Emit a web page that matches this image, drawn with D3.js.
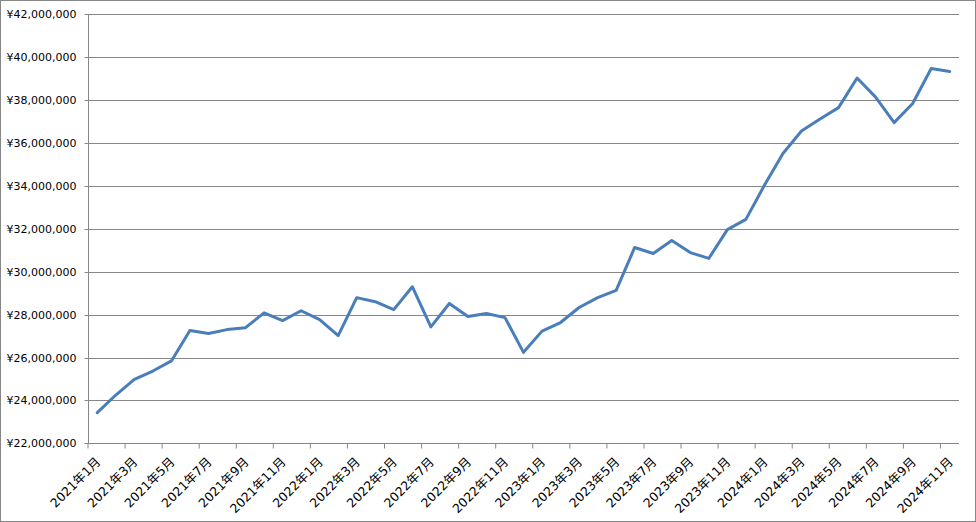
<!DOCTYPE html>
<html>
<head>
<meta charset="utf-8">
<script src="https://cdn.jsdelivr.net/npm/d3@7"></script>
<style>
  html, body { margin: 0; padding: 0; background: #fff; }
  svg { display: block; }
  text { font-family: "DejaVu Sans", "Noto Sans CJK JP", sans-serif; fill: #000; }
</style>
</head>
<body>
<svg id="chart" width="976" height="522"></svg>
<script>
const months = [
  "2021年1月","2021年2月","2021年3月","2021年4月","2021年5月","2021年6月","2021年7月","2021年8月","2021年9月","2021年10月","2021年11月","2021年12月",
  "2022年1月","2022年2月","2022年3月","2022年4月","2022年5月","2022年6月","2022年7月","2022年8月","2022年9月","2022年10月","2022年11月","2022年12月",
  "2023年1月","2023年2月","2023年3月","2023年4月","2023年5月","2023年6月","2023年7月","2023年8月","2023年9月","2023年10月","2023年11月","2023年12月",
  "2024年1月","2024年2月","2024年3月","2024年4月","2024年5月","2024年6月","2024年7月","2024年8月","2024年9月","2024年10月","2024年11月"
];
const values = [
  23430000, 24250000, 24980000, 25370000, 25840000, 27260000, 27120000, 27300000, 27390000, 28080000, 27720000, 28180000,
  27770000, 27020000, 28790000, 28600000, 28230000, 29300000, 27430000, 28520000, 27910000, 28050000, 27860000, 26240000,
  27230000, 27630000, 28330000, 28790000, 29130000, 31130000, 30850000, 31450000, 30890000, 30620000, 31960000, 32440000,
  34030000, 35510000, 36560000, 37120000, 37650000, 39030000, 38140000, 36950000, 37840000, 39470000, 39330000
];
const yTicks = [22000000, 24000000, 26000000, 28000000, 30000000, 32000000, 34000000, 36000000, 38000000, 40000000, 42000000];
const xTickLabels = months.filter((m, i) => i % 2 === 0);

(function () {
const svg = d3.select("#chart");
const W = 976, H = 522;
const mLeft = 88, mRight = 959, mTop = 14.3, mBottom = 443.3;
const gridColor = "#878787";

// outer border
svg.append("rect").attr("x", 0.5).attr("y", 0.5).attr("width", W - 1).attr("height", H - 1)
  .attr("fill", "#fff").attr("stroke", gridColor).attr("stroke-width", 1);

const x = d3.scaleBand().domain(months).range([mLeft, mRight]).paddingInner(0).paddingOuter(0);
const y = d3.scaleLinear().domain([22000000, 42000000]).range([mBottom, mTop]);
const bw = x.bandwidth();

// gridlines
svg.append("g").selectAll("line").data(yTicks.slice(1)).join("line")
  .attr("x1", mLeft).attr("x2", mRight)
  .attr("y1", d => Math.round(y(d)) + 0.5).attr("y2", d => Math.round(y(d)) + 0.5)
  .attr("stroke", gridColor).attr("stroke-width", 1);

// y axis
const yAxis = d3.axisLeft(y).tickValues(yTicks).tickSize(4).tickPadding(8)
  .tickFormat(d => "¥" + d3.format(",")(d));
const gy = svg.append("g").attr("transform", `translate(${mLeft + 0.5},0)`).call(yAxis);
gy.selectAll(".tick").attr("transform", d => `translate(0,${Math.round(y(d)) + 0.5})`);
gy.select(".domain").attr("stroke", gridColor).attr("d", `M0,${mTop}V${mBottom}`);
gy.selectAll(".tick line").attr("stroke", gridColor);
gy.selectAll(".tick text").attr("font-size", "11px").attr("font-family", "DejaVu Sans, sans-serif");

// x axis
const xAxis = d3.axisBottom(x).tickValues(xTickLabels).tickSize(0).tickPadding(0);
const gx = svg.append("g").attr("transform", `translate(0,${Math.round(mBottom) + 0.5})`).call(xAxis);
gx.select(".domain").attr("stroke", gridColor).attr("d", `M${mLeft},0H${mRight}`);
gx.selectAll(".tick").each(function(d) {
  const t = d3.select(this);
  t.select("line").remove();
  t.append("line").attr("x1", -bw / 2).attr("x2", -bw / 2).attr("y1", 0).attr("y2", 5)
    .attr("stroke", gridColor);
});
gx.selectAll(".tick text")
  .attr("font-size", "12.5px")
  .attr("text-anchor", "end")
  .attr("dy", "0.35em")
  .attr("transform", "translate(1,16) rotate(-45)");

// line
const line = d3.line()
  .x((d, i) => x(months[i]) + bw / 2)
  .y(d => y(d));
svg.append("path").datum(values)
  .attr("d", line)
  .attr("fill", "none")
  .attr("stroke", "#4A7EBB")
  .attr("stroke-width", 3)
  .attr("stroke-linejoin", "round")
  .attr("stroke-linecap", "round");
})();
</script>
</body>
</html>
